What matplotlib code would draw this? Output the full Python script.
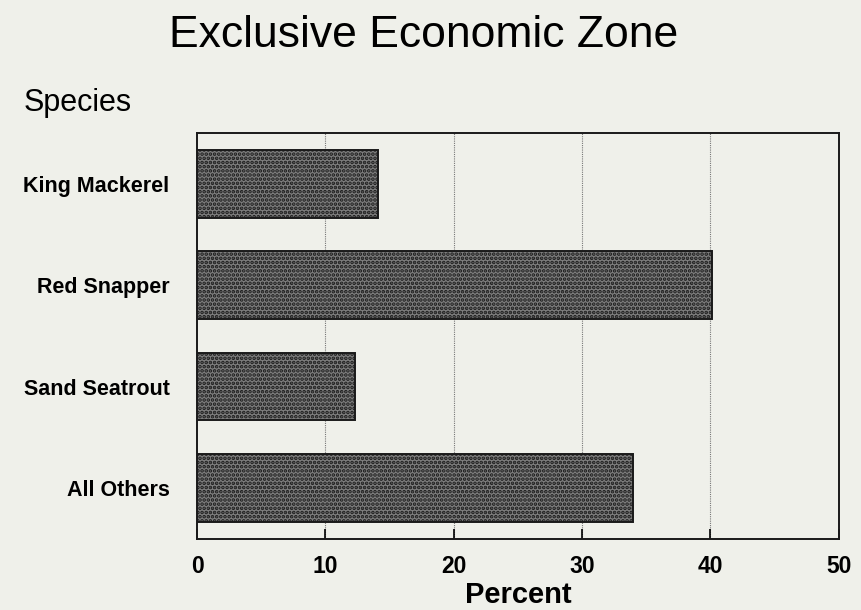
import matplotlib.pyplot as plt
import numpy as np

species = ["King Mackerel", "Red Snapper", "Sand Seatrout", "All Others"]
percent = [14.1, 40.1, 12.3, 34.0]
x_ticks = [0, 10, 20, 30, 40, 50]

BG = "#eff0ea"
plt.rcParams["font.family"] = ["Liberation Sans", "DejaVu Sans"]
plt.rcParams["hatch.linewidth"] = 1.8
plt.rcParams["hatch.color"] = "#222222"

fig = plt.figure(figsize=(8.61, 6.1), dpi=100, facecolor=BG)
ax = fig.add_axes([0.229, 0.117, 0.745, 0.665], facecolor=BG)

y = np.arange(len(species))
ax.barh(y, percent, height=0.67, color="#7d7d7d", edgecolor="#1a1a1a",
        linewidth=1.4, hatch="....", zorder=3)

ax.set_xlim(0, 50)
ax.set_ylim(len(species) - 0.5, -0.5)
ax.set_xticks(x_ticks)
ax.set_xticklabels([str(t) for t in x_ticks], fontsize=16.5, fontweight="bold")
ax.set_yticks(y)
ax.set_yticklabels(species, fontsize=15.5, fontweight="bold")
ax.tick_params(axis="y", length=0, pad=20)
ax.tick_params(axis="x", direction="in", length=7, width=1.2, pad=12)
for s in ax.spines.values():
    s.set_linewidth(1.4)
    s.set_color("#1a1a1a")

for t in [10, 20, 30, 40]:
    ax.axvline(t, color="#777777", linewidth=0.8, linestyle=(0, (1, 1)), zorder=1)

ax.set_xlabel("Percent", fontsize=21, fontweight="bold", va="top")
ax.xaxis.set_label_coords(0.5, -0.104)

fig.text(0.492, 0.942, "Exclusive Economic Zone", fontsize=32, ha="center", va="center")
fig.text(0.027, 0.831, "Species", fontsize=22, ha="left", va="center")

fig.savefig("out.png", dpi=100, facecolor=BG)
